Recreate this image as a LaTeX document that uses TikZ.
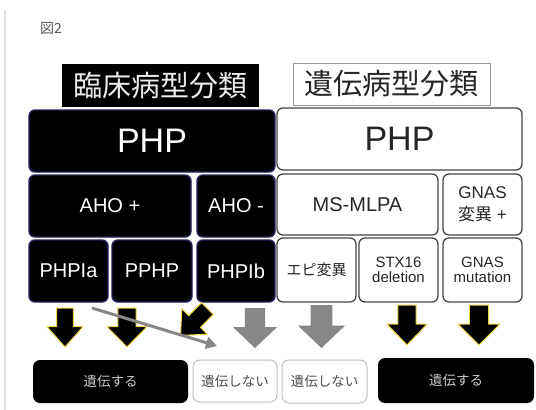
\documentclass[tikz,border=0pt]{standalone}
\usepackage{fontspec}
\setmainfont{Liberation Sans}
\newfontfamily\jp{Noto Sans CJK JP}
\usetikzlibrary{arrows.meta}
\definecolor{navyedge}{RGB}{35,35,95}
\definecolor{boxedge}{RGB}{70,70,70}
\definecolor{glow}{RGB}{235,215,70}
\definecolor{arrgray}{RGB}{135,135,135}
\newcommand\blockdn[5]{%
  \path[#1] ({#2-0.23*#4},{#3}) -- ({#2+0.23*#4},{#3}) -- ({#2+0.23*#4},{#3+0.48*#5})
   -- ({#2+0.5*#4},{#3+0.48*#5}) -- ({#2},{#3+#5}) -- ({#2-0.5*#4},{#3+0.48*#5})
   -- ({#2-0.23*#4},{#3+0.48*#5}) -- cycle;}
\tikzset{
  blk/.style={draw=navyedge, line width=1.4pt, fill=black, rounded corners=6pt, text=white, inner sep=0pt, align=center},
  wht/.style={draw=boxedge, line width=1.3pt, fill=white, rounded corners=6pt, text=black!85, inner sep=0pt, align=center},
  labblk/.style={fill=black, text=white!92!black, inner sep=0pt, font=\jp\fontsize{29}{32}\selectfont},
  labwht/.style={draw=black!40, line width=1pt, fill=white, text=black!85, inner sep=0pt, font=\jp\fontsize{29}{32}\selectfont},
  botblk/.style={fill=black, rounded corners=7pt, text=black!20, inner sep=0pt, font=\jp\fontsize{13.5}{15}\selectfont},
  botwht/.style={draw=black!25, line width=1pt, fill=white, rounded corners=7pt, text=black!70, inner sep=0pt, font=\jp\fontsize{13.5}{15}\selectfont},
  bigf/.style={font=\fontsize{34}{36}\selectfont},
  midf/.style={font=\fontsize{20}{22}\selectfont},
  gnf/.style={font=\fontsize{17}{22}\selectfont},
  smf/.style={font=\fontsize{15}{16}\selectfont},
  blackarrow/.style={fill=black, draw=glow, line width=1pt, line join=round},
  grayarrow/.style={fill=arrgray},
}
\begin{document}
\begin{tikzpicture}[x=1pt, y=-1pt]
\useasboundingbox[fill=white] (0,0) rectangle (536,410);
\draw[black!12, line width=1.5pt] (5,10) -- (5,410);
\node[text=black!65, font=\jp\fontsize{14}{16}\selectfont, anchor=west, inner sep=0pt] (fig) at (40,28) {図2};
% labels
\node[labblk, minimum width=197pt, minimum height=43pt] (lab1) at (160.5,85.5) {臨床病型分類};
\node[labwht, minimum width=197pt, minimum height=42pt] (lab2) at (391.5,84) {遺伝病型分類};
% row 1
\node[blk, bigf, minimum width=246pt, minimum height=62pt] (php1) at (152,141) {PHP};
\node[wht, bigf, minimum width=245pt, minimum height=62pt] (php2) at (399.5,139) {PHP};
% row 2
\node[blk, midf, minimum width=162pt, minimum height=62pt] (ahop) at (110,206) {AHO +};
\node[blk, midf, minimum width=78pt, minimum height=62pt] (ahom) at (236,206) {AHO -};
\node[wht, midf, minimum width=161pt, minimum height=61pt] (ms) at (357.5,204.5) {MS-MLPA};
\node[wht, gnf, minimum width=79pt, minimum height=61pt] (gnasp) at (482.5,204.5) {GNAS\\{\jp 変異} +};
% row 3
\node[blk, midf, minimum width=79pt, minimum height=62pt] (phpia) at (68.5,271) {PHPIa};
\node[blk, midf, minimum width=80pt, minimum height=62pt] (pphp) at (152,271) {PPHP};
\node[blk, midf, minimum width=78pt, minimum height=62pt] (phpib) at (236,271) {PHPIb};
\node[wht, smf, minimum width=79pt, minimum height=64pt] (epi) at (316.5,270) {\jp エピ変異};
\node[wht, smf, minimum width=79pt, minimum height=64pt] (stx) at (398.5,270) {STX16\\[-1pt]deletion};
\node[wht, smf, minimum width=79pt, minimum height=64pt] (gnasm) at (482.5,270) {GNAS\\[-1pt]mutation};
% bottom
\node[botblk, minimum width=155pt, minimum height=43pt] (b1) at (110.5,381.5) {遺伝する};
\node[botwht, minimum width=84pt, minimum height=42pt] (b2) at (235,381) {遺伝しない};
\node[botwht, minimum width=85pt, minimum height=43pt] (b3) at (324.5,381.5) {遺伝しない};
\node[botblk, minimum width=156pt, minimum height=45pt] (b4) at (456,380.5) {遺伝する};
% block arrows
\blockdn{blackarrow}{65}{308}{36}{39}
\blockdn{blackarrow}{127}{308}{40}{39}
\begin{scope}[shift={(194,322)}, rotate=-45]
\blockdn{blackarrow}{0}{-19}{36}{38}
\end{scope}
\blockdn{grayarrow}{255}{308}{44}{40}
\blockdn{grayarrow}{321.5}{305}{47}{43}
\blockdn{blackarrow}{407}{305}{40}{40}
\blockdn{blackarrow}{479}{305}{42}{40}
% gray line arrow
\coordinate (gs) at (92,308);
\coordinate (ge) at (217,346);
\draw[arrgray, line width=3pt, -{Triangle[length=11pt,width=12pt]}] (gs) -- (ge);
\end{tikzpicture}
\end{document}
